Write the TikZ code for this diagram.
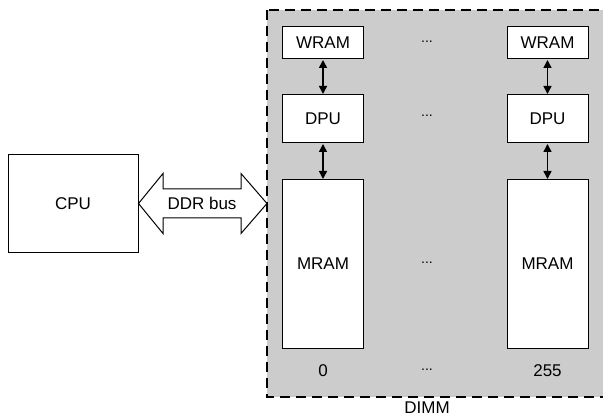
\documentclass[tikz,border=0pt]{standalone}
\usepackage{fontspec}
\setmainfont{Liberation Sans}
\usetikzlibrary{arrows.meta}
\definecolor{dimmgray}{HTML}{CCCCCC}
\tikzset{
  box/.style={draw=black, line width=1pt, fill=white, inner sep=0pt, font=\fontsize{17}{19}\selectfont},
  lbl/.style={inner sep=0pt, font=\fontsize{17}{19}\selectfont},
  dots/.style={inner sep=0pt, font=\fontsize{14}{16}\selectfont},
  biarrow/.style={line width=1.5pt, {Triangle[length=8pt,width=8pt]}-{Triangle[length=8pt,width=8pt]}, shorten <=0.5pt, shorten >=0.5pt},
}
\begin{document}
\begin{tikzpicture}[x=1pt,y=-1pt]
\useasboundingbox (0,0) rectangle (603,417);
\begin{scope}
\clip (0,0) rectangle (603,417);
\draw[fill=dimmgray, line width=1.5pt, dash pattern=on 10pt off 6pt] (267,10) rectangle (606,397);
\end{scope}
\coordinate (dimmW) at (267,203.5);
\node[lbl, anchor=base] (dimm) at (427,413) {DIMM};
% CPU
\node[box, minimum width=130pt, minimum height=97pt] (cpu) at (73,203.5) {CPU};
% column 0
\node[box, minimum width=81pt, minimum height=32pt] (w0) at (323,43) {WRAM};
\node[box, minimum width=81pt, minimum height=48pt] (d0) at (323,119) {DPU};
\node[box, minimum width=81pt, minimum height=168pt] (m0) at (323,264) {MRAM};
\node[lbl] (n0) at (323,371) {0};
% column 255
\node[box, minimum width=81pt, minimum height=32pt] (w1) at (547.5,43) {WRAM};
\node[box, minimum width=81pt, minimum height=48pt] (d1) at (547.5,119) {DPU};
\node[box, minimum width=81pt, minimum height=168pt] (m1) at (547.5,264) {MRAM};
\node[lbl] (n1) at (547.5,371) {255};
% dots
\node[dots] (e1) at (427,42) {...};
\node[dots] (e2) at (427,116) {...};
\node[dots] (e3) at (427,263) {...};
\node[dots] (e4) at (427,370) {...};
% arrows
\draw[biarrow] (w0.south) -- (d0.north);
\draw[biarrow] (d0.south) -- (m0.north);
\draw[biarrow] (w1.south) -- (d1.north);
\draw[biarrow] (d1.south) -- (m1.north);
% DDR bus double arrow
\draw[line width=1pt, fill=white, line join=miter]
  (cpu.east) -- (163,173.5) -- (163,189) -- (241,189) -- (241,173.5) -- (dimmW)
  -- (241,233.5) -- (241,218) -- (163,218) -- (163,233.5) -- cycle;
\node[lbl] (ddr) at (202,203.5) {DDR bus};
\end{tikzpicture}
\end{document}
